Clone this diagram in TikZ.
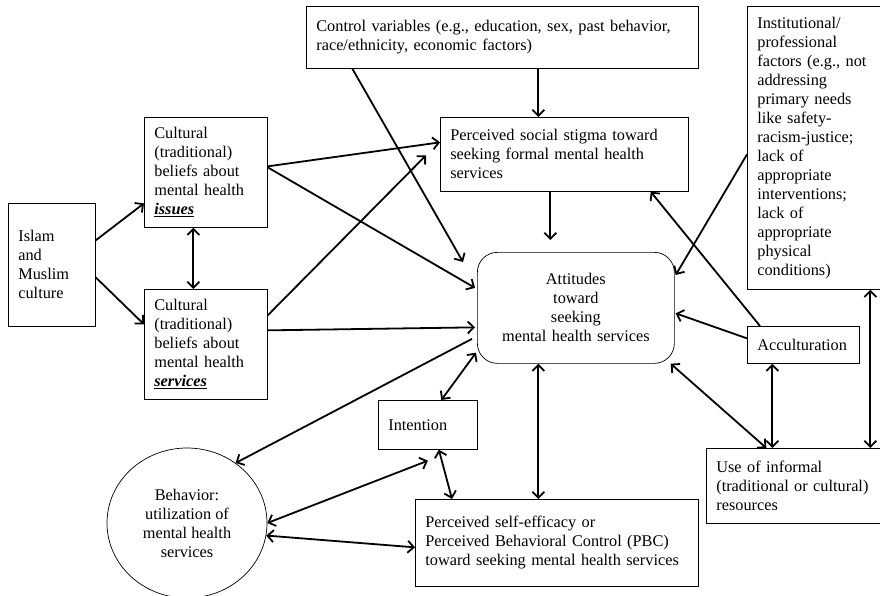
\documentclass[tikz,border=0pt]{standalone}
\usepackage{fontspec}
\setmainfont{Liberation Serif}
\usetikzlibrary{arrows.meta,calc,shapes.geometric}
\begin{document}
\begin{tikzpicture}[x = 1pt, y = -1pt,
        box/.style = {draw, line width = 0.7pt, anchor = north west, align = left,
            inner xsep = 10pt, inner ysep = 0pt, font = \fontsize{16.3}{19}\selectfont},
        link/.style = {line width = 1.8pt, -{Straight Barb[length = 6pt, width = 12pt]}},
        both/.style = {line width = 1.8pt, {Straight Barb[length = 6pt, width = 12pt]}-{Straight Barb[length = 6pt, width = 12pt]}}]
    \useasboundingbox (0, 0) rectangle (880, 595);

    \node[box, text width = 67pt, minimum height = 123pt] (islam) at (8, 203)
        {Islam\\and\\Muslim\\culture};
    \node[box, text width = 103pt, minimum height = 110pt] (issues) at (144, 117)
        {Cultural\\(traditional)\\beliefs about\\mental health\\\underline{\textbf{\textit{issues}}}};
    \node[box, text width = 103pt, minimum height = 110pt] (services) at (144, 289)
        {Cultural\\(traditional)\\beliefs about\\mental health\\\underline{\textbf{\textit{services}}}};
    \node[box, text width = 372pt, minimum height = 62pt] (control) at (306, 6)
        {Control variables (e.g., education, sex, past behavior,\\race/ethnicity, economic factors)};
    \node[box, text width = 228pt, minimum height = 74pt] (stigma) at (440, 117)
        {Perceived social stigma toward\\seeking formal mental health\\services};
    \node[box, text width = 115pt, minimum height = 283pt] (inst) at (747, 6)
        {Institutional/\\professional\\factors (e.g., not\\addressing\\primary needs\\like safety-\\racism-justice;\\lack of\\appropriate\\interventions;\\lack of\\appropriate\\physical\\conditions)};
    \node[box, align = center, rounded corners = 20pt, text width = 177pt, minimum height = 111pt] (att) at (477, 252)
        {Attitudes\\toward\\seeking\\mental health services};
    \node[box, text width = 92pt, minimum height = 37pt] (accult) at (747, 326)
        {Acculturation};
    \node[box, text width = 79pt, minimum height = 49pt] (intention) at (378, 400)
        {Intention};
    \node[box, text width = 158pt, minimum height = 75pt] (informal) at (706, 448)
        {Use of informal\\(traditional or cultural)\\resources};
    \node[box, text width = 263pt, minimum height = 87pt] (pbc) at (415, 499)
        {Perceived self-efficacy or\\Perceived Behavioral Control (PBC)\\toward seeking mental health services};
    \node[draw, ellipse, line width = 0.7pt, align = center, inner sep = 0pt,
        minimum width = 160pt, minimum height = 150pt, font = \fontsize{16.3}{19}\selectfont] (behavior) at (187, 523)
        {Behavior:\\utilization of\\mental health\\services};

    \draw[link] ($(islam.east) + (0, -24.5)$) -- ($(issues.west) + (0, 31)$);
    \draw[link] ($(islam.east) + (0, 12.5)$) -- ($(services.west) + (0, -20)$);
    \draw[both] ($(issues.south) + (-12.5, 0)$) -- ($(services.north) + (-12.5, 0)$);
    \draw[link] ($(issues.east) + (0, -6)$) -- ($(stigma.west) + (0, -12)$);
    \draw[link] ($(issues.east) + (0, -5)$) -- ($(att.west) + (-2, -20)$);
    \draw[link] ($(services.east) + (0, -29)$) -- ($(stigma.west) + (-14, 1)$);
    \draw[link] ($(services.east) + (0, -14)$) -- ($(att.west) + (-2, 19.5)$);
    \draw[link] ($(control.south) + (-150, 0)$) -- ($(att.north west) + (-14, 10)$);
    \draw[link] ($(control.south) + (36, 0)$) -- ($(stigma.north) + (-26, 0)$);
    \draw[link] ($(stigma.south) + (-14, 0)$) -- ($(att.north) + (-25.5, -12)$);
    \draw[link] ($(inst.west) + (0, 6.5)$) -- ($(att.north east) + (1, 23)$);
    \draw[link] ($(accult.north west) + (13, 0)$) -- ($(stigma.south east) + (-38, 0)$);
    \draw[link] ($(accult.west) + (0, -6.5)$) -- ($(att.east) + (1, 5.5)$);
    \draw[link] ($(att.west) + (-5, 31)$) -- (behavior.51);

    \draw[both] ($(inst.south) + (55.5, 0)$) -- ($(informal.north) + (75, 0)$);
    \draw[both] ($(accult.south) + (-31, 0)$) -- ($(informal.north) + (-23, 0)$);
    \draw[both] ($(att.south east) + (-4, 0)$) -- ($(informal.north) + (-29, 0)$);
    \draw[both] ($(att.south) + (-37.5, 0)$) -- ($(pbc.north) + (-18.5, 0)$);
    \draw[both] ($(att.south west) + (-1, -11)$) -- ($(intention.north) + (13.5, 0)$);
    \draw[both] ($(intention.south) + (11, 0)$) -- ($(pbc.north west) + (37, 0)$);
    \draw[both] (behavior.east) -- ($(intention.south) + (0, 11)$);
    \draw[both] (behavior.-9) -- ($(pbc.west) + (0, 4.5)$);
\end{tikzpicture}
\end{document}
